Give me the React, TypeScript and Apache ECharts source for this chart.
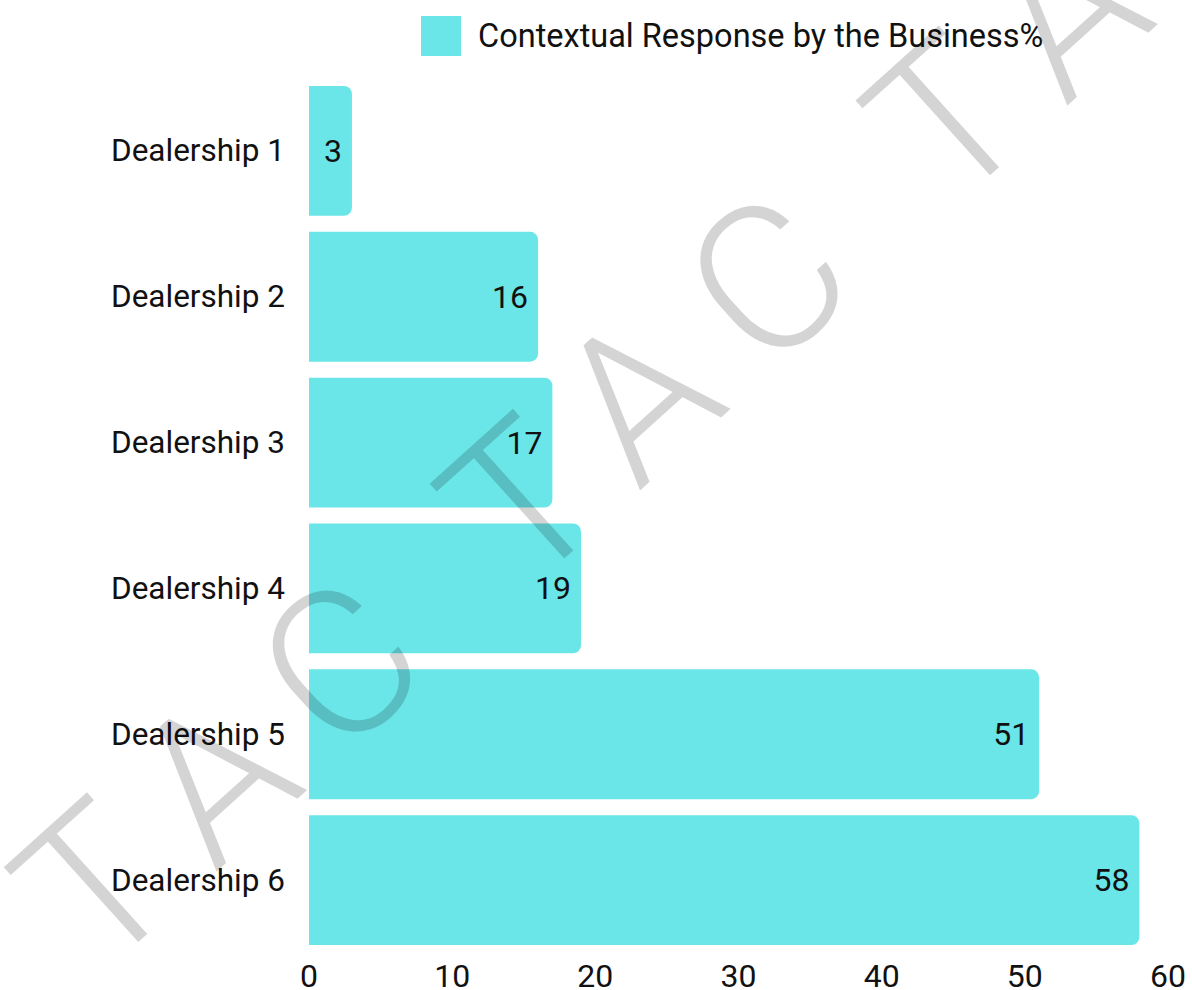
import React, { useEffect, useRef } from "react";
import * as echarts from "echarts";

const categories = ["Dealership 1", "Dealership 2", "Dealership 3", "Dealership 4", "Dealership 5", "Dealership 6"];
const values = [3, 16, 17, 19, 51, 58];
const seriesName = "Contextual Response by the Business%";
const watermarkLetters = ["T", "A", "C", "T", "A", "C", "T", "A"];
const watermarkOffsets = [0, 160, 330, 573, 730, 905, 1146, 1305];

const FONT = "Roboto, 'Noto Sans', sans-serif";
const BAR = "#6ae5e8";

export default function App() {
  const ref = useRef<HTMLDivElement>(null);
  useEffect(() => {
    if (!ref.current) return;
    const chart = echarts.init(ref.current, null, { renderer: "svg" });
    const rot = (42 * Math.PI) / 180;
    chart.setOption({
      animation: false,
      backgroundColor: "#ffffff",
      legend: {
        data: [seriesName],
        left: 421,
        top: 16,
        padding: 0,
        itemWidth: 40,
        itemHeight: 40,
        itemGap: 10,
        icon: "rect",
        textStyle: { fontFamily: FONT, fontSize: 32.5, color: "#111", padding: [0, 0, 0, 12] },
      },
      grid: { left: 309, right: 24, top: 78, bottom: 37, containLabel: false, outerBoundsMode: "none" },
      xAxis: {
        type: "value",
        min: 0,
        max: 60,
        interval: 10,
        axisLine: { show: false },
        axisTick: { show: false },
        splitLine: { show: false },
        axisLabel: { fontFamily: FONT, fontSize: 32, lineHeight: 26, color: "#111", margin: 10 },
      },
      yAxis: {
        type: "category",
        inverse: true,
        data: categories,
        axisLine: { show: false },
        axisTick: { show: false },
        axisLabel: { fontFamily: FONT, fontSize: 31.5, color: "#111", margin: 24 },
      },
      series: [
        {
          name: seriesName,
          type: "bar",
          data: values,
          barCategoryGap: "11%",
          itemStyle: { color: BAR, borderRadius: [0, 8, 8, 0] },
          label: {
            show: true,
            position: "insideRight",
            distance: 10,
            fontFamily: FONT,
            fontSize: 32,
            color: "#111",
          },
        },
      ],
      graphic: [
        {
          type: "group",
          x: 96,
          y: 886,
          rotation: rot,
          z: 100,
          silent: true,
          children: watermarkLetters.map((ch, i) => ({
            type: "text",
            x: watermarkOffsets[i],
            y: 0,
            z: 100,
            style: {
              text: ch,
              fontFamily: FONT,
              fontWeight: 300,
              fontSize: 205,
              fill: "rgba(0,0,0,0.17)",
              textAlign: "center",
              textVerticalAlign: "middle",
            },
          })),
        },
      ],
    });
    return () => chart.dispose();
  }, []);
  return <div ref={ref} style={{ width: 1192, height: 990, position: "absolute", left: 0, top: 0 }} />;
}
